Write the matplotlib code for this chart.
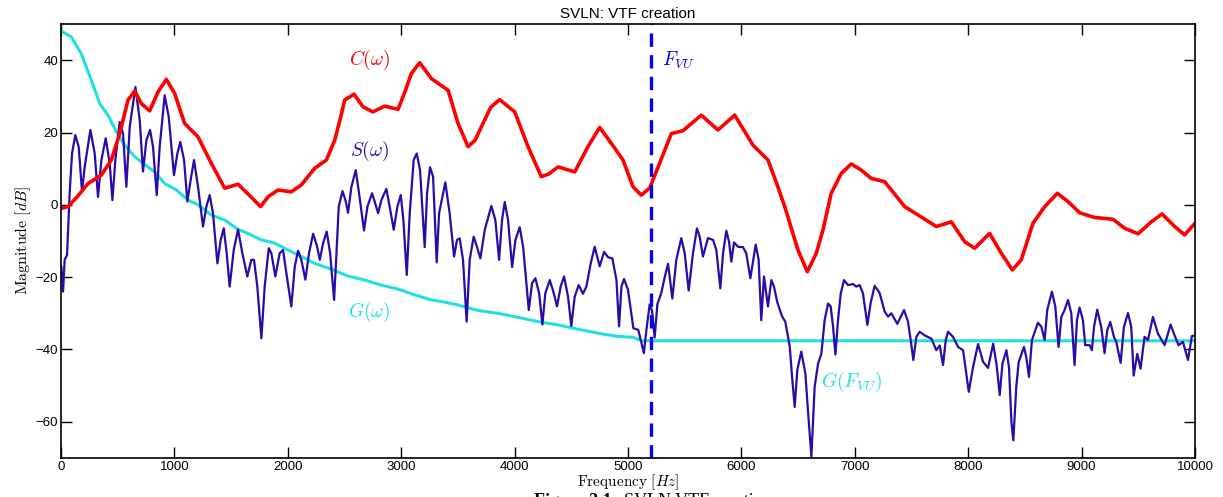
import matplotlib.pyplot as plt

plt.rcParams['mathtext.fontset'] = 'cm'

# C(w): envelope (red)
c_x = [0, 62, 150, 238, 355, 444, 517, 591, 650, 708, 782, 855, 929, 1002, 1090, 1208, 1325,
       1443, 1561, 1649, 1760, 1825, 1913, 2031, 2119, 2237, 2340, 2414, 2460, 2502, 2584, 2663,
       2751, 2854, 2972, 3030, 3089, 3163, 3266, 3413, 3501, 3589, 3650, 3707, 3790, 3868, 4001, 4118, 4235,
       4300, 4383, 4530, 4647, 4750, 4853, 4956, 5044, 5117, 5191, 5279, 5382, 5485, 5646, 5793,
       5941, 6102, 6234, 6310, 6382, 6499, 6581, 6660, 6719, 6792, 6881, 6969, 7057, 7145, 7263,
       7440, 7557, 7719, 7851, 7969, 8057, 8189, 8292, 8390, 8468, 8571, 8675, 8786, 8880,
       8983, 9115, 9277, 9380, 9498, 9615, 9709, 9821, 9909, 10000]
c_y = [-1.0, -0.5, 2.5, 5.9, 8.2, 12.4, 19.7, 29.0, 31.5, 28.0, 26.0, 31.2, 34.7, 30.8, 22.5, 18.8, 11.5,
       4.6, 5.7, 3.0, -0.5, 2.2, 4.1, 3.6, 5.5, 10.1, 12.4, 17.9, 23.5, 29.0, 30.6, 27.1,
       25.7, 27.3, 26.4, 31.0, 36.3, 39.3, 34.9, 31.7, 22.5, 16.1, 17.8, 21.6, 27.0, 29.1, 25.7, 16.1, 7.8,
       8.5, 10.5, 9.1, 16.1, 21.4, 17.0, 12.4, 5.0, 2.7, 4.6, 11.5, 19.7, 20.5, 24.8, 20.7,
       24.8, 16.5, 12.4, 6.0, -0.5, -12.5, -18.5, -13.4, -7.0, 3.2, 8.7, 11.3, 9.6, 7.3, 6.4,
       -0.5, -2.8, -6.0, -4.7, -10.2, -12.0, -7.9, -13.4, -18.0, -15.2, -5.1, -0.5, 3.2, 0.9,
       -2.2, -3.5, -4.0, -6.5, -8.0, -4.7, -2.5, -6.0, -8.3, -5.1]

# G(w): glottal model (cyan), flat beyond F_VU
g_x = [0, 91, 179, 267, 341, 414, 488, 562, 650, 723, 826, 914, 1017, 1120, 1208, 1325,
       1443, 1561, 1649, 1766, 1884, 2002, 2119, 2237, 2384, 2531, 2678, 2825, 2972, 3119,
       3266, 3369, 3501, 3677, 3854, 4030, 4206, 4383, 4559, 4736, 4912, 5044, 5117, 10000]
g_y = [48.1, 46.4, 41.8, 34.5, 28.0, 24.8, 20.2, 16.5, 13.3, 11.5, 9.1, 5.9, 4.1, 1.3, 0.0, -2.8,
       -4.2, -6.8, -7.9, -9.7, -10.6, -12.5, -14.3, -16.2, -17.8, -19.7, -20.8, -22.2, -23.3, -24.9,
       -26.3, -26.8, -27.7, -29.2, -30.0, -31.1, -32.3, -33.2, -34.4, -35.5, -36.4, -36.6, -37.6, -37.6]

# S(w): amplitude spectrum (indigo)
s_x = [3, 18, 32, 53, 76, 97, 126, 156, 185, 209, 259, 297, 326, 356, 394, 429, 453, 479, 517, 547,
       576, 606, 656, 694, 723, 753, 785, 811, 844, 870, 914, 950, 996, 1026, 1052, 1085, 1114, 1143,
       1173, 1208, 1252, 1282, 1311, 1340, 1379, 1408, 1435, 1461, 1487, 1523, 1561, 1599, 1643, 1678,
       1702, 1731, 1767, 1796, 1832, 1855, 1890, 1928, 1958, 1987, 2031, 2061, 2090, 2119, 2155, 2187,
       2223, 2258, 2282, 2311, 2343, 2373, 2408, 2429, 2449, 2482, 2508, 2531, 2561, 2599, 2628, 2672,
       2702, 2743, 2766, 2796, 2825, 2869, 2898, 2934, 2966, 2996, 3019, 3049, 3075, 3110, 3137, 3166,
       3207, 3228, 3254, 3281, 3313, 3334, 3389, 3427, 3466, 3492, 3516, 3545, 3577, 3604, 3639, 3668,
       3698, 3737, 3795, 3830, 3863, 3889, 3913, 3942, 3978, 4007, 4045, 4075, 4125, 4154, 4183, 4216,
       4245, 4271, 4310, 4345, 4374, 4406, 4436, 4471, 4500, 4530, 4565, 4603, 4633, 4671, 4706, 4750,
       4789, 4824, 4862, 4898, 4921, 4942, 4965, 5000, 5047, 5091, 5140, 5161, 5191, 5212, 5235, 5259,
       5294, 5323, 5353, 5391, 5426, 5470, 5500, 5535, 5573, 5608, 5632, 5661, 5705, 5750, 5779, 5814,
       5838, 5867, 5891, 5911, 5935, 5970, 6014, 6043, 6079, 6126, 6152, 6175, 6199, 6234, 6264, 6287,
       6317, 6358, 6387, 6426, 6449, 6470, 6493, 6528, 6564, 6593, 6617, 6646, 6676, 6705, 6734, 6764,
       6787, 6808, 6829, 6852, 6876, 6905, 6940, 6984, 7013, 7043, 7072, 7111, 7140, 7175, 7219, 7263,
       7293, 7322, 7375, 7434, 7469, 7493, 7516, 7543, 7572, 7616, 7675, 7719, 7749, 7778, 7802, 7822,
       7866, 7911, 7955, 8005, 8043, 8087, 8131, 8175, 8220, 8249, 8278, 8302, 8337, 8360, 8381, 8398,
       8424, 8445, 8492, 8512, 8536, 8562, 8615, 8645, 8674, 8697, 8738, 8768, 8797, 8821, 8850, 8880,
       8909, 8938, 8959, 8982, 9012, 9032, 9070, 9091, 9109, 9138, 9173, 9203, 9226, 9253, 9285, 9306,
       9344, 9373, 9409, 9438, 9459, 9491, 9520, 9555, 9585, 9629, 9673, 9732, 9785, 9820, 9855, 9894,
       9938, 9973, 10000]
s_y = [-17.1, -24.0, -15.2, -13.9, 3.2, 14.2, 19.3, 16.0, 3.6, 10.6, 20.7, 14.2, 2.2, 12.4, 18.4, 11.5, 1.3, 12.4, 22.9, 19.7,
       5.0, 21.6, 32.6, 23.4, 9.2, 17.9, 20.7, 16.1, 2.7, 16.1, 30.3, 24.3, 8.2, 14.2, 17.4, 12.4, 0.9, 6.9,
       12.4, 5.0, -6.0, -0.5, 2.7, -2.3, -16.2, -9.7, -6.5, -13.4, -22.6, -12.5, -6.8, -13.4, -19.8, -15.2,
       -15.2, -22.6, -36.9, -22.6, -12.0, -13.4, -19.8, -13.4, -12.5, -18.9, -28.1, -17.1, -12.7, -15.2, -20.7, -13.4,
       -8.0, -11.5, -15.2, -10.6, -7.4, -13.4, -26.3, -13.4, -0.5, 3.8, 1.3, -2.2, 5.0, 9.6, 3.2, -7.1,
       -0.5, 3.2, 0.9, -2.3, 1.3, 4.4, -0.5, -6.9, -0.5, 2.7, -4.2, -19.4, -2.3, 12.4, 14.2, 9.6,
       -11.7, 3.2, 10.4, 7.8, -15.9, -2.3, 6.2, -2.3, -14.3, -9.7, -9.3, -15.2, -32.3, -15.2, -8.8, -11.6,
       -14.8, -6.9, -0.3, -4.2, -15.2, -4.2, 0.8, -4.2, -17.2, -9.7, -6.2, -11.6, -29.1, -21.7, -20.3, -24.4,
       -33.1, -24.4, -20.8, -24.4, -28.1, -22.6, -19.8, -25.4, -33.5, -25.4, -22.2, -24.6, -22.6, -16.2, -11.6, -17.0,
       -13.0, -14.5, -14.8, -20.8, -33.6, -22.6, -20.5, -23.5, -34.1, -34.6, -41.0, -34.9, -27.5, -29.3, -36.7, -27.5,
       -24.3, -20.1, -16.3, -25.9, -15.2, -9.2, -13.4, -23.7, -13.4, -6.5, -8.8, -14.3, -9.2, -9.7, -12.5, -23.1,
       -13.4, -7.2, -10.2, -15.7, -10.4, -11.6, -11.7, -13.4, -20.3, -11.0, -15.2, -31.9, -19.8, -28.1, -20.8, -22.6,
       -27.0, -30.8, -32.3, -39.1, -48.4, -55.9, -45.6, -40.6, -46.6, -59.5, -69.6, -50.3, -43.9, -41.2, -31.9, -27.3,
       -28.1, -33.6, -41.4, -31.9, -24.5, -20.8, -22.2, -21.9, -22.6, -22.2, -24.5, -33.2, -27.1, -22.4, -24.4, -29.5,
       -30.9, -30.0, -32.9, -29.1, -32.3, -37.4, -42.9, -36.5, -35.1, -36.1, -37.0, -40.2, -38.9, -44.3, -37.4, -35.1,
       -36.5, -39.3, -40.2, -51.7, -44.8, -38.5, -43.4, -45.1, -38.4, -43.9, -52.6, -43.9, -40.2, -45.0, -60.0, -65.1,
       -50.4, -43.5, -39.3, -42.1, -47.6, -37.4, -32.6, -33.7, -37.4, -29.1, -24.0, -28.1, -39.3, -31.0, -29.1, -26.3,
       -30.0, -44.3, -31.9, -28.4, -31.9, -38.8, -38.8, -40.2, -33.8, -29.0, -33.8, -41.0, -34.7, -32.4, -36.5, -37.9,
       -43.7, -33.8, -29.9, -33.8, -47.2, -41.2, -45.3, -36.5, -37.4, -31.0, -35.6, -38.8, -33.1, -36.1, -38.8, -37.9,
       -42.9, -36.3, -36.1]

f_vu = 5200

fig = plt.figure(figsize=(12.23, 4.97), dpi=100)
ax = fig.add_axes([0.0499, 0.0785, 0.9272, 0.8732])

ax.plot(g_x, g_y, color="#22e0e0", lw=2.2)
ax.plot(s_x, s_y, color="#2a0aa8", lw=1.6)
ax.plot(c_x, c_y, color="#ff0000", lw=2.6)
ax.axvline(f_vu, color="#0000ff", lw=2.4, ls=(0, (4, 2.5)))

ax.text(2720, 40, r"$C(\omega)$", color="#ff0000", size=14, ha="center", va="center")
ax.text(2720, 15, r"$S(\omega)$", color="#2a0aa8", size=14, ha="center", va="center")
ax.text(2720, -29.6, r"$G(\omega)$", color="#22e0e0", size=14, ha="center", va="center")
ax.text(5300, 40, r"$F_{VU}$", color="#0000ff", size=14, ha="left", va="center")
ax.text(6700, -49, r"$G(F_{VU})$", color="#22e0e0", size=14, ha="left", va="center")

ax.set_xlim(0, 10000)
ax.set_ylim(-70, 50)
ax.set_xticks(range(0, 10001, 1000))
ax.set_yticks([-60, -40, -20, 0, 20, 40])
ax.tick_params(direction="in", length=8, width=1, top=True, right=True, labelsize=9.5, pad=2)
for lab in ax.get_xticklabels() + ax.get_yticklabels():
    lab.set_family("Liberation Sans")
for sp in ax.spines.values():
    sp.set_linewidth(1.2)

ax.set_title("SVLN: VTF creation", family="Liberation Sans", size=11, pad=4)
ax.set_xlabel(r"$\mathrm{Frequency}\ [Hz]$", size=11)
ax.xaxis.set_label_coords(0.5, -0.034)
ax.set_ylabel(r"$\mathrm{Magnitude}\ [dB]$", size=11.5, labelpad=2)

# figure caption, cut by the bottom edge as in the source
fig.text(0.437, 0.008, "Figure 3.1:", family="Liberation Serif",
         size=13, weight="bold", ha="left", va="top")
fig.text(0.510, 0.008, "SVLN VTF creation", family="Liberation Serif",
         size=13, ha="left", va="top")

fig.savefig("out.png", dpi=100)
